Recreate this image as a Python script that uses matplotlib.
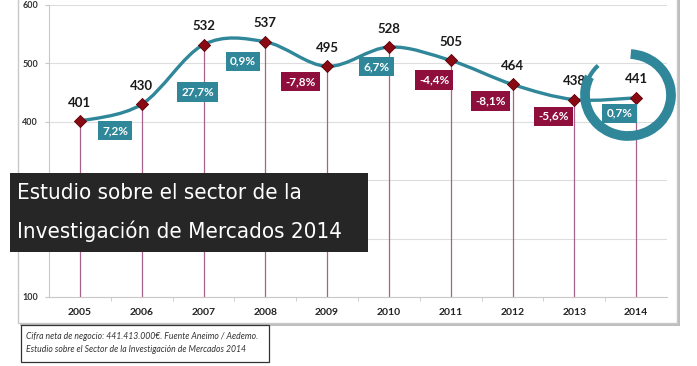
import matplotlib
matplotlib.use('Agg')
from matplotlib import pyplot as plt
from matplotlib.path import Path
from matplotlib.patches import PathPatch, Rectangle, Arc

years = [2005, 2006, 2007, 2008, 2009, 2010, 2011, 2012, 2013, 2014]
values = [401, 430, 532, 537, 495, 528, 505, 464, 438, 441]
changes = ['7,2%', '27,7%', '0,9%', '-7,8%', '6,7%', '-4,4%', '-8,1%', '-5,6%', '0,7%']
yticks = [100, 200, 300, 400, 500, 600]
ytick_labels = ['100', '', '', '400', '500', '600']  # 200/300 sit under the banner
title_lines = ['Estudio sobre el sector de la', 'Investigación de Mercados 2014']
note = ('Cifra neta de negocio: 441.413.000€. Fuente Aneimo / Aedemo.\n'
        'Estudio sobre el Sector de la Investigación de Mercados 2014')

# label offsets (points) from each point, for years 2006..2014
offsets = [(-19, -19), (-4, -34), (-16, -14), (-19, -11), (-9, -14),
           (-12, -14), (-16, -12), (-15, -12), (-12, -11)]

teal = '#2f8799'
red = '#8e0f3c'

plt.rc('font', family=['Lato', 'DejaVu Sans'])
fig = plt.figure(figsize=(6.97, 3.66), dpi=100)
fig.patch.set_facecolor('white')

# chart frame with shadow
fig.add_artist(Rectangle((20/697, 1-326/366), 660/697, 330/366, transform=fig.transFigure,
                         facecolor='#bdbdbd', edgecolor='none', zorder=0))
fig.add_artist(Rectangle((18/697, 1-323/366), 659/697, 330/366, transform=fig.transFigure,
                         facecolor='white', edgecolor='#c8c8c8', lw=1, zorder=0))

ax = fig.add_axes([49/697, 1-297/366, 618/697, 292/366])
ax.set_facecolor('none')
ax.set_xlim(2004.5, 2014.5)
ax.set_ylim(100, 600)

for s in ['top', 'right']:
    ax.spines[s].set_visible(False)
ax.spines['left'].set_color('#c8c8c8')
ax.spines['bottom'].set_color('#c8c8c8')
ax.set_yticks(yticks)
ax.set_yticklabels(ytick_labels, fontsize=6.5, fontweight='bold', color='#333333')
ax.set_xticks(years)
ax.set_xticklabels([str(y) for y in years], fontsize=7.5, fontweight='bold', color='#222222')
ax.set_xticks([y + 0.5 for y in years[:-1]], minor=True)
ax.tick_params(axis='x', which='major', length=0, pad=8)
ax.tick_params(axis='x', which='minor', length=3, color='#c8c8c8')
ax.tick_params(axis='y', length=3, color='#c8c8c8', pad=5)
ax.grid(axis='y', color='#dddddd', lw=0.8)
ax.set_axisbelow(True)

# drop lines
ax.vlines(years, 100, values, color='#a8618a', lw=0.9, zorder=2)

# smooth line (Catmull-Rom as bezier segments)
verts = [(years[0], values[0])]
codes = [Path.MOVETO]
n = len(years)
for i in range(n - 1):
    p0 = (years[max(i - 1, 0)], values[max(i - 1, 0)])
    p1 = (years[i], values[i])
    p2 = (years[i + 1], values[i + 1])
    p3 = (years[min(i + 2, n - 1)], values[min(i + 2, n - 1)])
    c1 = (p1[0] + (p2[0] - p0[0]) / 6, p1[1] + (p2[1] - p0[1]) / 6)
    c2 = (p2[0] - (p3[0] - p1[0]) / 6, p2[1] - (p3[1] - p1[1]) / 6)
    verts += [c1, c2, p2]
    codes += [Path.CURVE4] * 3
ax.add_patch(PathPatch(Path(verts, codes), facecolor='none', edgecolor=teal, lw=2.4, zorder=3))

ax.scatter(years, values, marker='D', s=38, color='#8a0a14', edgecolor='#5a0008', lw=0.6, zorder=4)

for x, v in zip(years, values):
    ax.annotate(str(v), (x, v), xytext=(0, 9), textcoords='offset points',
                ha='center', va='bottom', fontsize=9.5, fontweight='bold', color='#1a1a1a', zorder=5)

for x, v, c, off in zip(years[1:], values[1:], changes, offsets):
    fc = red if c.startswith('-') else teal
    ax.annotate(c, (x, v), xytext=off, textcoords='offset points',
                ha='center', va='center', fontsize=8.5, fontweight='bold', color='white', zorder=5,
                bbox=dict(boxstyle='square,pad=0.35', facecolor=fc, edgecolor='none'))

# brush circle around 2014
ring = (628/697, 1-95/366)
fig.add_artist(Arc(ring, 86/697, 82/366, theta1=138, theta2=448,
                   transform=fig.transFigure, color=teal, lw=7, zorder=6))
fig.add_artist(Arc(ring, 86/697, 82/366, theta1=118, theta2=140,
                   transform=fig.transFigure, color=teal, lw=3, zorder=6))

# title banner
fig.add_artist(Rectangle((10/697, 1-252/366), 358/697, 79/366, transform=fig.transFigure,
                         facecolor='#262626', edgecolor='none', zorder=7))
for line, ypx in zip(title_lines, [193, 231]):
    fig.text(17/697, 1-ypx/366, line, ha='left', va='center', fontsize=16, color='white',
             family='DejaVu Sans', fontstretch='condensed', zorder=8)

# footnote
fig.add_artist(Rectangle((21/697, 1-362/366), 248/697, 37/366, transform=fig.transFigure,
                         facecolor='white', edgecolor='#333333', lw=0.9, zorder=7))
fig.text(26/697, 1-343/366, note, ha='left', va='center', fontsize=6.2, style='italic',
         color='#333333', linespacing=1.5, zorder=8)

plt.savefig('out.png', dpi=100, facecolor='white')
